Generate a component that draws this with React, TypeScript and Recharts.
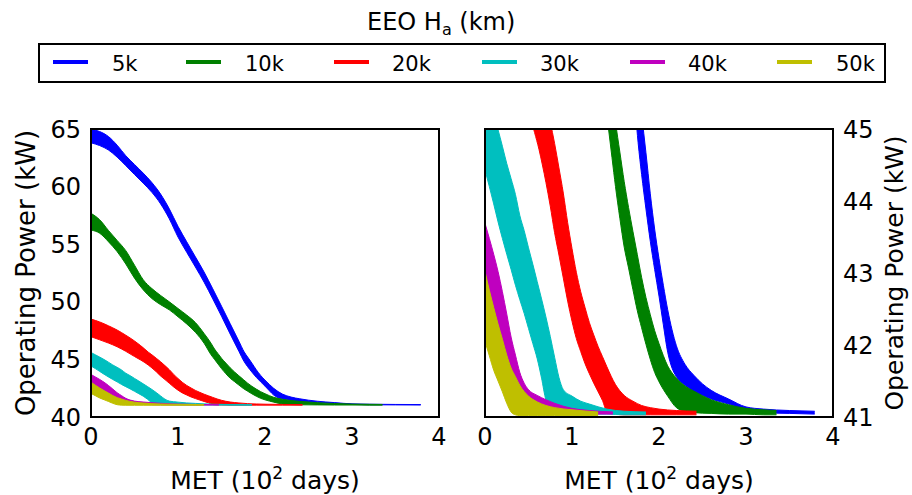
import React from 'react';
import { ComposedChart, Area, XAxis, YAxis } from 'recharts';

const FONT = '"DejaVu Sans", sans-serif';

const seriesNames = ['5k', '10k', '20k', '30k', '40k', '50k'];
const seriesColors = ['#0000ff', '#008000', '#ff0000', '#00bfbf', '#bf00bf', '#bfbf00'];
const xTicks = [0, 1, 2, 3, 4];
const leftTicks = [40, 45, 50, 55, 60, 65];
const rightTicks = [41, 42, 43, 44, 45];

// MET (10^2 days) and the lower / upper edge (kW) of each noisy band
const met5k = [0, 0.1, 0.2, 0.3, 0.4, 0.5, 0.6, 0.7, 0.8, 0.9, 1.0, 1.1, 1.2, 1.3, 1.4, 1.5, 1.6, 1.7, 1.76, 1.8, 1.85, 1.9, 1.95, 2.0, 2.05, 2.1, 2.15, 2.2, 2.3, 2.4, 2.5, 2.6, 2.8, 3.0, 3.2, 3.5, 3.79];
const lo5k = [63.8, 63.56, 63.18, 62.56, 61.82, 61.05, 60.3, 59.5, 58.5, 57.2, 55.62, 54.3, 53.02, 51.7, 50.25, 48.75, 47.2, 45.7, 44.81, 44.37, 43.89, 43.44, 43.05, 42.68, 42.28, 41.9, 41.68, 41.56, 41.44, 41.35, 41.3, 41.25, 41.18, 41.09, 41.06, 41.05, 41.04];
const hi5k = [65.0, 64.78, 64.35, 63.6, 62.68, 61.92, 61.17, 60.35, 59.35, 58.07, 56.55, 55.21, 53.9, 52.58, 51.12, 49.62, 48.1, 46.58, 45.66, 45.21, 44.67, 44.1, 43.61, 43.2, 42.83, 42.49, 42.21, 41.99, 41.73, 41.58, 41.46, 41.37, 41.25, 41.14, 41.11, 41.09, 41.08];

const met10k = [0, 0.1, 0.2, 0.3, 0.4, 0.5, 0.6, 0.7, 0.8, 0.9, 1.0, 1.1, 1.2, 1.3, 1.38, 1.42, 1.46, 1.5, 1.55, 1.6, 1.65, 1.7, 1.75, 1.8, 1.85, 1.9, 1.95, 2.0, 2.1, 2.2, 2.3, 2.4, 2.6, 2.8, 3.0, 3.2, 3.35];
const lo10k = [56.23, 55.95, 55.22, 54.36, 53.28, 52.05, 51.04, 50.28, 49.75, 49.3, 48.7, 48.08, 47.35, 46.4, 45.4, 45.0, 44.6, 44.2, 43.76, 43.36, 43.07, 42.77, 42.48, 42.24, 42.01, 41.8, 41.62, 41.49, 41.29, 41.13, 41.08, 41.06, 41.05, 41.04, 41.04, 41.03, 41.03];
const hi10k = [57.68, 57.12, 56.2, 55.33, 54.44, 53.18, 51.92, 51.15, 50.55, 50.0, 49.42, 48.85, 48.2, 47.25, 46.4, 45.9, 45.5, 45.1, 44.68, 44.27, 43.91, 43.58, 43.26, 42.94, 42.66, 42.42, 42.2, 42.02, 41.71, 41.54, 41.43, 41.36, 41.24, 41.17, 41.12, 41.1, 41.09];

const met20k = [0, 0.1, 0.2, 0.3, 0.4, 0.5, 0.57, 0.62, 0.66, 0.7, 0.75, 0.8, 0.85, 0.9, 0.95, 1.0, 1.05, 1.1, 1.15, 1.2, 1.25, 1.3, 1.35, 1.4, 1.5, 1.6, 1.7, 1.8, 1.9, 2.0, 2.2, 2.43];
const lo20k = [46.97, 46.7, 46.42, 46.1, 45.7, 45.25, 44.95, 44.72, 44.5, 44.26, 43.93, 43.56, 43.25, 42.93, 42.61, 42.33, 42.09, 41.91, 41.74, 41.6, 41.47, 41.35, 41.23, 41.08, 41.04, 41.03, 41.03, 41.03, 41.03, 41.03, 41.03, 41.03];
const hi20k = [48.5, 48.25, 47.92, 47.55, 47.1, 46.6, 46.2, 45.88, 45.62, 45.4, 45.1, 44.8, 44.46, 44.11, 43.7, 43.34, 43.01, 42.74, 42.52, 42.31, 42.14, 41.98, 41.84, 41.7, 41.45, 41.3, 41.22, 41.16, 41.13, 41.11, 41.09, 41.08];

const met30k = [0, 0.05, 0.1, 0.15, 0.2, 0.25, 0.3, 0.35, 0.4, 0.45, 0.5, 0.55, 0.6, 0.65, 0.7, 0.75, 0.8, 0.85, 0.9, 1.0, 1.1, 1.2, 1.4, 1.6, 1.85];
const lo30k = [44.43, 44.2, 43.96, 43.71, 43.48, 43.26, 43.05, 42.83, 42.63, 42.44, 42.23, 42.02, 41.81, 41.54, 41.24, 41.15, 41.12, 41.1, 41.08, 41.06, 41.05, 41.04, 41.04, 41.03, 41.03];
const hi30k = [45.6, 45.4, 45.2, 44.99, 44.76, 44.52, 44.31, 44.09, 43.8, 43.59, 43.35, 43.12, 42.88, 42.64, 42.39, 42.12, 41.83, 41.55, 41.38, 41.29, 41.22, 41.18, 41.11, 41.08, 41.07];

const met40k = [0, 0.05, 0.1, 0.15, 0.2, 0.25, 0.3, 0.35, 0.4, 0.45, 0.5, 0.6, 0.7, 0.8, 0.9, 1.0, 1.2, 1.47];
const lo40k = [42.85, 42.6, 42.35, 42.12, 41.92, 41.7, 41.52, 41.38, 41.28, 41.2, 41.15, 41.1, 41.07, 41.06, 41.05, 41.05, 41.04, 41.04];
const hi40k = [43.69, 43.48, 43.26, 43.02, 42.74, 42.43, 42.11, 41.86, 41.62, 41.47, 41.38, 41.3, 41.24, 41.19, 41.15, 41.12, 41.09, 41.07];

const met50k = [0, 0.05, 0.1, 0.15, 0.2, 0.25, 0.3, 0.35, 0.4, 0.5, 0.6, 0.7, 0.8, 1.0, 1.3];
const lo50k = [42.05, 41.85, 41.65, 41.5, 41.35, 41.19, 41.07, 41.03, 41.02, 41.02, 41.02, 41.02, 41.02, 41.02, 41.02];
const hi50k = [43.02, 42.76, 42.52, 42.29, 42.08, 41.86, 41.68, 41.56, 41.44, 41.29, 41.21, 41.16, 41.13, 41.1, 41.07];

const bands = [
    { met: met5k, lo: lo5k, hi: hi5k },
    { met: met10k, lo: lo10k, hi: hi10k },
    { met: met20k, lo: lo20k, hi: hi20k },
    { met: met30k, lo: lo30k, hi: hi30k },
    { met: met40k, lo: lo40k, hi: hi40k },
    { met: met50k, lo: lo50k, hi: hi50k },
];

const seriesData = bands.map((b) => b.met.map((x, i) => ({ x, v: [b.lo[i], b.hi[i]] })));

// legend layout (px)
const legendLineX = [53, 186, 334, 482, 630, 777];
const legendTextX = [112, 245, 392, 540, 688, 836];

type Margin = { top: number; right: number; bottom: number; left: number };

function Panel({ left, width, margin, domain, ticks, side }: {
    left: number;
    width: number;
    margin: Margin;
    domain: [number, number];
    ticks: number[];
    side: 'left' | 'right';
}) {
    const tickFont = { fill: '#000', fontSize: 24, fontFamily: FONT };
    const frame = { stroke: '#000', strokeWidth: 2, strokeLinecap: 'square' as const };
    const tickLine = { stroke: '#000', strokeWidth: 1 };
    const other = side === 'left' ? 'right' : 'left';

    return (
        <div style={{ position: 'absolute', left, top: 0 }}>
            <ComposedChart width={width} height={495} margin={margin}>
                <XAxis xAxisId="lab" type="number" dataKey="x" domain={[0, 4]} ticks={xTicks} interval={0} allowDataOverflow
                    height={30} tickLine={false} axisLine={false} tickSize={0} tickMargin={11} tick={tickFont} />
                <XAxis xAxisId="bot" type="number" dataKey="x" domain={[0, 4]} ticks={xTicks} interval={0} allowDataOverflow
                    mirror tick={false} tickSize={7} tickLine={tickLine} axisLine={frame} />
                <XAxis xAxisId="top" orientation="top" type="number" dataKey="x" domain={[0, 4]} ticks={xTicks} interval={0} allowDataOverflow
                    mirror tick={false} tickSize={7} tickLine={tickLine} axisLine={frame} />
                <YAxis yAxisId="lab" orientation={side} type="number" domain={domain} ticks={ticks} interval={0} allowDataOverflow
                    width={60} tickLine={false} axisLine={false} tickSize={0} tickMargin={10} tick={tickFont} />
                <YAxis yAxisId="in" orientation={side} type="number" domain={domain} ticks={ticks} interval={0} allowDataOverflow
                    mirror tick={false} tickSize={7} tickLine={tickLine} axisLine={frame} />
                <YAxis yAxisId="far" orientation={other} type="number" domain={domain} ticks={ticks} interval={0} allowDataOverflow
                    mirror tick={false} tickSize={7} tickLine={side === 'left' ? tickLine : false} axisLine={frame} />
                {seriesData.map((d, i) => (
                    <Area
                        key={seriesNames[i]}
                        xAxisId="lab"
                        yAxisId="lab"
                        data={d}
                        dataKey="v"
                        type="monotone"
                        stroke={seriesColors[i]}
                        strokeWidth={1}
                        fill={seriesColors[i]}
                        fillOpacity={1}
                        dot={false}
                        activeDot={false}
                        isAnimationActive={false}
                    />
                ))}
            </ComposedChart>
        </div>
    );
}

export default function App() {
    return (
        <div style={{ position: 'absolute', left: 0, top: 0, width: 912, height: 495, background: '#fff', overflow: 'hidden' }}>
            <Panel left={0} width={460} margin={{ top: 129, right: 21, bottom: 48, left: 31 }}
                domain={[40, 65]} ticks={leftTicks} side="left" />
            <Panel left={460} width={452} margin={{ top: 129, right: 19, bottom: 48, left: 25 }}
                domain={[41, 45]} ticks={rightTicks} side="right" />

            <svg width={912} height={495} style={{ position: 'absolute', left: 0, top: 0, pointerEvents: 'none' }}
                fontFamily={FONT} fill="#000">
                <text x={367} y={30} fontSize={24}>
                    EEO H<tspan fontSize={16} dy={5}>a</tspan><tspan dy={-5}> (km)</tspan>
                </text>
                <rect x={39} y={44} width={846} height={38} fill="none" stroke="#000" strokeWidth={2} />
                {seriesNames.map((name, i) => (
                    <g key={name}>
                        <line x1={legendLineX[i]} x2={legendLineX[i] + 35} y1={62} y2={62} stroke={seriesColors[i]} strokeWidth={4} />
                        <text x={legendTextX[i]} y={71} fontSize={21}>{name}</text>
                    </g>
                ))}
                <text x={265} y={489} textAnchor="middle" fontSize={25}>
                    MET (10<tspan fontSize={17} dy={-10}>2</tspan><tspan dy={10}> days)</tspan>
                </text>
                <text x={659} y={489} textAnchor="middle" fontSize={25}>
                    MET (10<tspan fontSize={17} dy={-10}>2</tspan><tspan dy={10}> days)</tspan>
                </text>
                <text transform="translate(35,273) rotate(-90)" textAnchor="middle" fontSize={26}>Operating Power (kW)</text>
                <text transform="translate(903,273) rotate(-90)" textAnchor="middle" fontSize={25}>Operating Power (kW)</text>
            </svg>
        </div>
    );
}
